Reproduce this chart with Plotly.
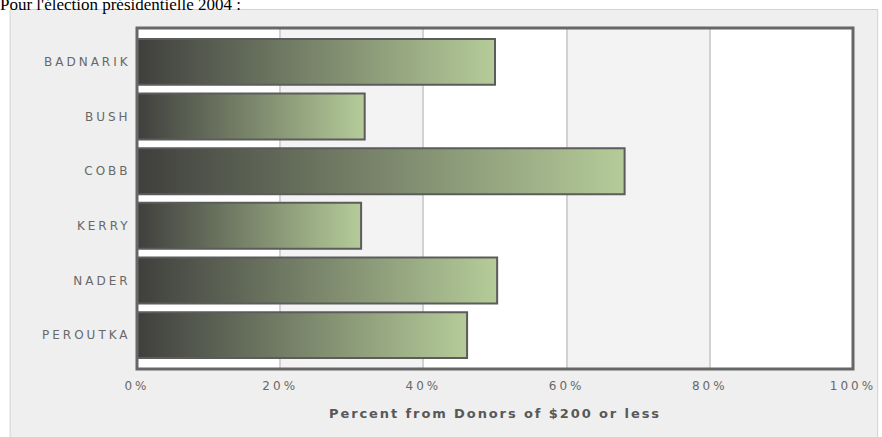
import plotly.graph_objects as go

# ---- data ----
candidates = ["BADNARIK", "BUSH", "COBB", "KERRY", "NADER", "PEROUTKA"]
percent_small_donors = [50.0, 31.8, 68.1, 31.3, 50.3, 46.1]
x_tick_values = [0, 20, 40, 60, 80, 100]
x_tick_labels = ["0%", "20%", "40%", "60%", "80%", "100%"]
page_title = "Pour l'élection présidentielle 2004 :"
x_axis_title = "Percent from Donors of $200 or less"

# ---- styling ----
W, H = 882, 437
ML, MR, MT, MB = 137, 20, 28, 68
PW, PH = W - ML - MR, H - MT - MB
HALF = 0.42
GRAD = [[0, "#3f3f3d"], [1, "#b5cc99"]]

fig = go.Figure()

for i, (name, val) in enumerate(zip(candidates, percent_small_donors)):
    fig.add_trace(go.Scatter(
        x=[0, val, val, 0, 0],
        y=[i - HALF, i - HALF, i + HALF, i + HALF, i - HALF],
        mode="lines",
        fill="toself",
        fillgradient=dict(type="horizontal", colorscale=GRAD),
        line=dict(color="#5c5c5c", width=2),
        name=name,
        hoverinfo="skip",
        showlegend=False,
    ))

def px_to_paper_x(px):
    return (px - ML) / PW

def py_to_paper_y(py):
    return 1 - (py - MT) / PH

shapes = [
    # outer light-gray panel
    dict(type="rect", xref="paper", yref="paper",
         x0=px_to_paper_x(8.5), x1=px_to_paper_x(W + 5),
         y0=py_to_paper_y(H + 5), y1=py_to_paper_y(9.5),
         fillcolor="#efefef", line=dict(color="#d2d2d2", width=1), layer="below"),
    # white plot area
    dict(type="rect", xref="x", yref="paper", x0=0, x1=100, y0=0, y1=1,
         fillcolor="#ffffff", line=dict(width=0), layer="below"),
    # alternating bands
    dict(type="rect", xref="x", yref="paper", x0=20, x1=40, y0=0, y1=1,
         fillcolor="#f3f3f3", line=dict(width=0), layer="below"),
    dict(type="rect", xref="x", yref="paper", x0=60, x1=80, y0=0, y1=1,
         fillcolor="#f3f3f3", line=dict(width=0), layer="below"),
    # plot border
    dict(type="rect", xref="paper", yref="paper", x0=0, x1=1, y0=0, y1=1,
         fillcolor="rgba(0,0,0,0)", line=dict(color="#676767", width=3), layer="above"),
]

fig.update_layout(
    width=W, height=H,
    margin=dict(l=ML, r=MR, t=MT, b=MB, pad=0),
    paper_bgcolor="#ffffff",
    plot_bgcolor="#ffffff",
    shapes=shapes,
    showlegend=False,
    title=dict(
        text=page_title,
        font=dict(family="Liberation Serif", size=17, color="#000000"),
        xref="container", x=0.0, xanchor="left",
        yref="container", y=1 - 4 / H, yanchor="middle",
        pad=dict(l=0, r=0, t=0, b=0),
    ),
    xaxis=dict(
        range=[0, 100],
        tickvals=x_tick_values,
        ticktext=x_tick_labels,
        showgrid=True, gridcolor="#d2d2d2", gridwidth=1.5,
        zeroline=False, showline=False,
        ticks="outside", ticklen=6, tickcolor="rgba(0,0,0,0)",
        tickfont=dict(family="DejaVu Sans", size=12, color="#686868"),
        title=dict(text=x_axis_title, standoff=16,
                   font=dict(family="DejaVu Sans", size=13, color="#585858", weight="bold")),
        fixedrange=True,
    ),
    yaxis=dict(
        range=[len(candidates) - 1 + 0.62, -0.62],
        tickvals=list(range(len(candidates))),
        ticktext=candidates,
        showgrid=False, zeroline=False, showline=False,
        ticks="outside", ticklen=3, tickcolor="rgba(0,0,0,0)",
        tickfont=dict(family="DejaVu Sans", size=12, color="#686868"),
        fixedrange=True,
    ),
)

post_js = """
document.body.style.margin = '0';
var gd = document.getElementById('{plot_id}');
function spacing(){
  gd.querySelectorAll('.xtick text, .ytick text').forEach(function(t){ t.style.letterSpacing = '3px'; });
  var xt = gd.querySelector('.xtitle'); if (xt) { xt.style.letterSpacing = '1.9px'; }
}
spacing();
gd.on('plotly_afterplot', spacing);
"""

fig.write_html("out.html", post_script=post_js, config={"displayModeBar": False})
